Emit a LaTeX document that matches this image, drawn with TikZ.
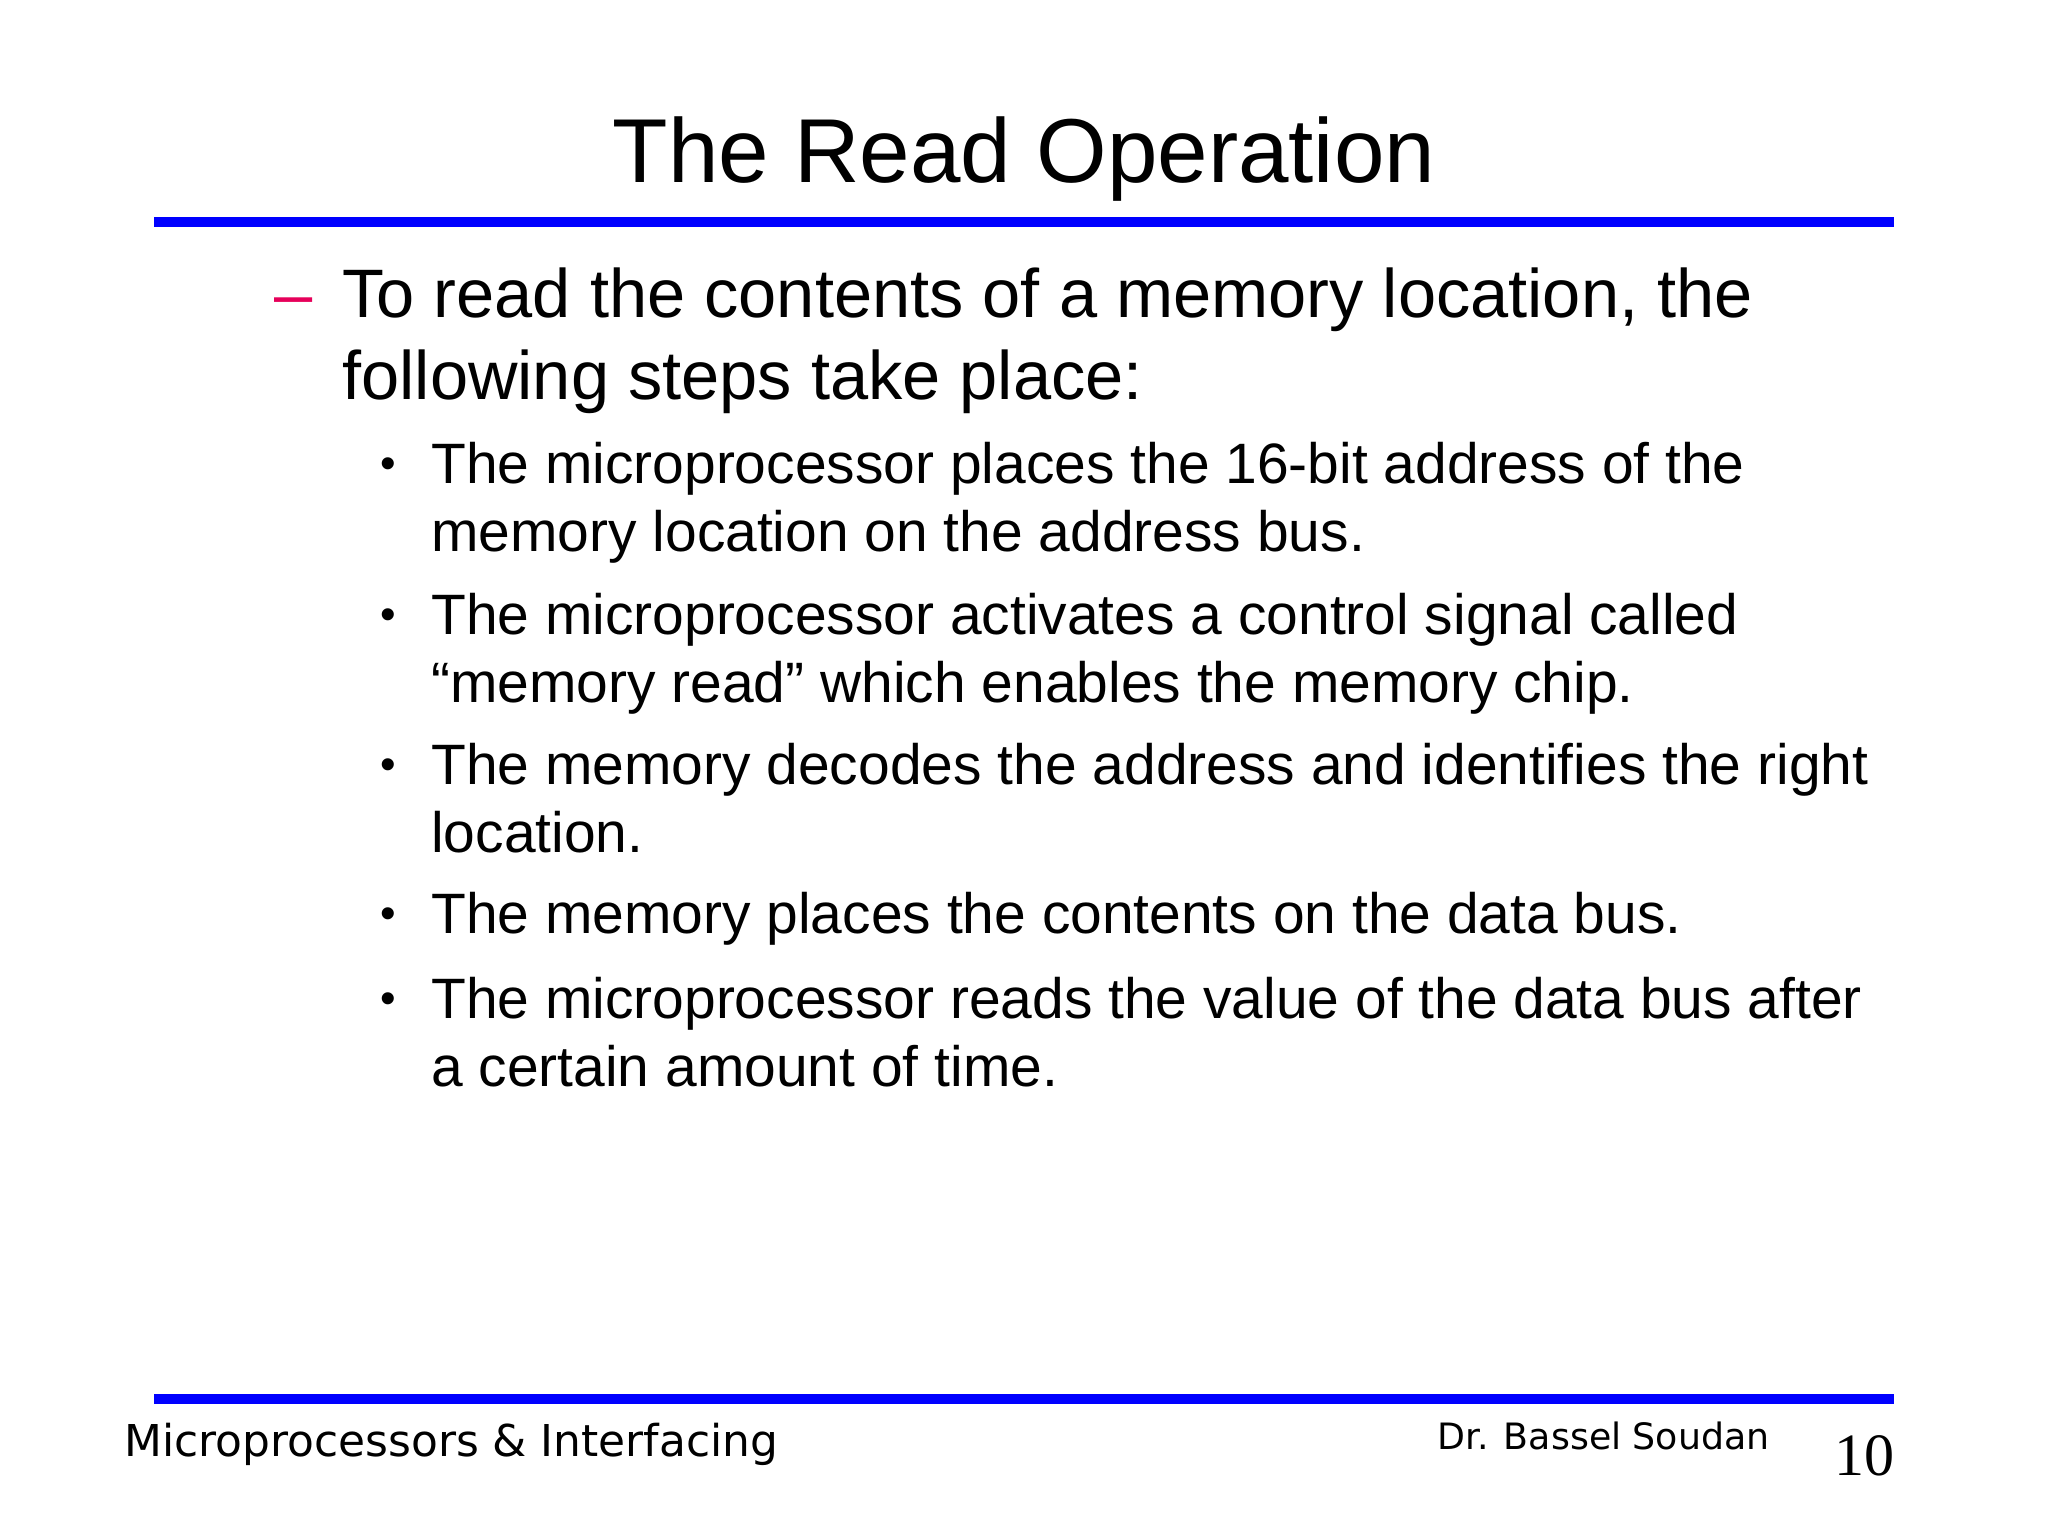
\documentclass[tikz,border=0pt]{standalone}
\usepackage{fontspec}
\setmainfont{Liberation Sans}
\newfontfamily\footfont{DejaVu Sans}
\newfontfamily\numfont{Liberation Serif}
\definecolor{slideblue}{RGB}{0,0,255}
\definecolor{dashred}{RGB}{230,0,90}
\begin{document}
\begin{tikzpicture}[x=1pt,y=-1pt,
  ttl/.style={anchor=base,inner sep=0pt,font=\fontsize{69.5}{69.5}\selectfont},
  lvlone/.style={anchor=base west,inner sep=0pt,font=\fontsize{52.5}{52.5}\selectfont},
  lvltwo/.style={anchor=base west,inner sep=0pt,font=\fontsize{43.6}{43.6}\selectfont},
  bul/.style={anchor=base west,inner sep=0pt,font=\fontsize{34}{34}\selectfont},
  rule/.style={fill=slideblue,draw=none}]
\useasboundingbox[fill=white] (0,0) rectangle (1568,1176);
\node[ttl] (title) at (784,140) {The Read Operation};
\fill[rule] (118,166) rectangle (1450,174);
\fill[rule] (118,1067) rectangle (1450,1075);
\node[lvlone,text=dashred] (dash) at (210,243) {–};
\node[lvlone] (l1) at (262,243) {To read the contents of a memory location, the};
\node[lvlone] (l2) at (262,306) {following steps take place:};
\foreach \y/\a/\b [count=\i] in {
 370/{The microprocessor places the 16-bit address of the}/{memory location on the address bus.},
 486/{The microprocessor activates a control signal called}/{“memory read” which enables the memory chip.},
 601/{The memory decodes the address and identifies the right}/{location.},
 780/{The microprocessor reads the value of the data bus after}/{a certain amount of time.}}{
  \node[bul] (b\i) at (291,\y-4) {•};
  \node[lvltwo] (t\i) at (330,\y) {\a};
  \node[lvltwo] (u\i) at (330,\y+52) {\b};
}
\node[bul] (b5) at (291,711) {•};
\node[lvltwo] (t5) at (330,715) {The memory places the contents on the data bus.};
\node[anchor=base west,inner sep=0pt,font=\footfont\fontsize{33.6}{33.6}\selectfont] (f1) at (95,1115) {Microprocessors \& Interfacing};
\node[anchor=base east,inner sep=0pt,font=\footfont\fontsize{27.8}{27.8}\selectfont] (f2) at (1355,1110) {Dr. Bassel Soudan};
\node[anchor=base east,inner sep=0pt,font=\numfont\fontsize{46}{46}\selectfont] (pg) at (1451,1130) {10};
\end{tikzpicture}
\end{document}
